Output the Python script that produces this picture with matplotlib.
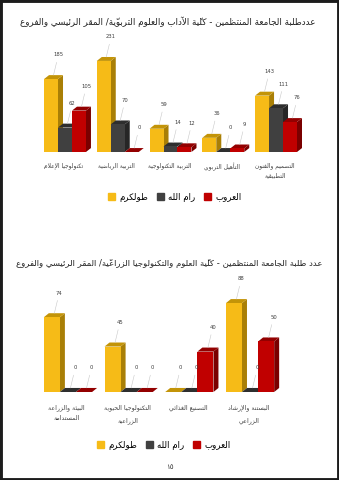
import numpy as np
import matplotlib.pyplot as plt
from matplotlib.patches import Polygon, Rectangle, Patch

# ---------------------------------------------------------------
# data
# ---------------------------------------------------------------
series = ['طولكرم', 'رام الله', 'العروب']

title1 = 'عددطلبة الجامعة المنتظمين - كليّة الآداب والعلوم التربويّة/ المقر الرئيسي والفروع'
cats1 = ['تكنولوجيا الإعلام', 'التربية الرياضية', 'التربية التكنولوجية',
         'التأهيل التربوي', 'التصميم والفنون\nالتطبيقية']
tulkarm1 = [185, 231, 59, 36, 143]
ramallah1 = [62, 70, 14, 0, 111]
arroub1 = [105, 0, 12, 9, 76]

title2 = 'عدد طلبة الجامعة المنتظمين - كليّة العلوم والتكنولوجيا الزراعيّة/ المقر الرئيسي والفروع'
cats2 = ['البيئة والزراعة\nالمستدامة', 'التكنولوجيا الحيوية\nالزراعية',
         'التصنيع الغذائي', 'البستنة والإرشاد\nالزراعي']
tulkarm2 = [74, 45, 0, 88]
ramallah2 = [0, 0, 0, 0]
arroub2 = [0, 0, 40, 50]

page_no = '١٥'

front = ['#F6BB17', '#404040', '#C00000']
side = ['#A97F06', '#262626', '#7A0000']
top = ['#C39408', '#2E2E2E', '#930000']

# ---------------------------------------------------------------
# minimal arabic shaping (matplotlib has no bidi / joining)
# ---------------------------------------------------------------
DUAL = {'ئ': 0xFE89, 'ب': 0xFE8F, 'ت': 0xFE95, 'ث': 0xFE99, 'ج': 0xFE9D,
        'ح': 0xFEA1, 'خ': 0xFEA5, 'س': 0xFEB1, 'ش': 0xFEB5, 'ص': 0xFEB9,
        'ض': 0xFEBD, 'ط': 0xFEC1, 'ظ': 0xFEC5, 'ع': 0xFEC9, 'غ': 0xFECD,
        'ف': 0xFED1, 'ق': 0xFED5, 'ك': 0xFED9, 'ل': 0xFEDD, 'م': 0xFEE1,
        'ن': 0xFEE5, 'ه': 0xFEE9, 'ي': 0xFEF1}
RIGHT = {'آ': 0xFE81, 'أ': 0xFE83, 'ؤ': 0xFE85, 'إ': 0xFE87, 'ا': 0xFE8D,
         'ة': 0xFE93, 'د': 0xFEA9, 'ذ': 0xFEAB, 'ر': 0xFEAD, 'ز': 0xFEAF,
         'و': 0xFEED, 'ى': 0xFEEF}
LAM_ALEF = {'آ': 0xFEF5, 'أ': 0xFEF7, 'إ': 0xFEF9, 'ا': 0xFEFB}
MARKS = set(chr(c) for c in range(0x064B, 0x0653))


def shape_line(s):
    # tokens: [letter_key, marks]
    toks = []
    i = 0
    while i < len(s):
        ch = s[i]
        if ch in MARKS and toks:
            toks[-1][1] += ch
            i += 1
            continue
        if ch == 'ل' and i + 1 < len(s) and s[i + 1] in LAM_ALEF:
            toks.append([('LA', s[i + 1]), ''])
            i += 2
            continue
        toks.append([ch, ''])
        i += 1

    def kind(t):
        if isinstance(t, tuple):
            return 'R'
        if t in DUAL:
            return 'D'
        if t in RIGHT:
            return 'R'
        if t == 'ء':
            return 'U'
        return None

    out = []
    for j, (t, m) in enumerate(toks):
        k = kind(t)
        if k is None or k == 'U':
            out.append(t + m)
            continue
        prev = kind(toks[j - 1][0]) if j > 0 else None
        nxt = kind(toks[j + 1][0]) if j + 1 < len(toks) else None
        jp = prev == 'D'
        jn = k == 'D' and nxt in ('D', 'R')
        if isinstance(t, tuple):
            base = LAM_ALEF[t[1]]
            g = chr(base + (1 if jp else 0))
        elif k == 'R':
            g = chr(RIGHT[t] + (1 if jp else 0))
        else:
            off = 3 if (jp and jn) else 1 if jp else 2 if jn else 0
            g = chr(DUAL[t] + off)
        out.append(g + m)
    return ''.join(out[::-1])


def ar(s):
    return '\n'.join(shape_line(line) for line in s.split('\n'))


# ---------------------------------------------------------------
# figure
# ---------------------------------------------------------------
W, H = 339, 480
fig = plt.figure(figsize=(W / 100, H / 100), dpi=100)
fig.patch.set_facecolor('white')


def px_axes(x0, x1, y_top, y_base):
    return fig.add_axes([x0 / W, 1 - y_base / H, (x1 - x0) / W, (y_base - y_top) / H])


def draw_chart(ax, cats, vals, xlim, ylim, dx, dy, cat_fs, cat_off, cat_ls):
    w = 0.265
    ax.set_xlim(*xlim)
    ax.set_ylim(*ylim)
    ax.axis('off')
    n = len(cats)
    for k in range(3):
        for i in range(n):
            x = i + (k - 1) * w
            h = vals[k][i]
            z = 2 + 3 * k + 10 * i
            ax.add_patch(Polygon([(x + w / 2, 0), (x + w / 2 + dx, dy),
                                  (x + w / 2 + dx, h + dy), (x + w / 2, h)],
                                 closed=True, fc=side[k], ec='none', zorder=z))
            ax.add_patch(Polygon([(x - w / 2, h), (x + w / 2, h),
                                  (x + w / 2 + dx, h + dy), (x - w / 2 + dx, h + dy)],
                                 closed=True, fc=top[k], ec='none', zorder=z + 1))
            ax.bar(x, h, w, color=front[k], zorder=z + 2, clip_on=False)
            ax.annotate(str(h), xy=(x + dx * 0.5, h + dy), xytext=(3.5, 14.5),
                        textcoords='offset points', ha='center', va='center',
                        fontsize=3.8, color='#404040', zorder=60,
                        arrowprops=dict(arrowstyle='-', color='#c8c8c8', lw=0.4,
                                        shrinkA=1.5, shrinkB=0))
    for i, c in enumerate(cats):
        ax.annotate(ar(c), xy=(i - 0.02, 0), xytext=(0, -cat_off),
                    textcoords='offset points', ha='center', va='top',
                    fontsize=cat_fs, color='#404040', linespacing=cat_ls,
                    annotation_clip=False)


def legend_at(xc, yc):
    handles = [Patch(color=c) for c in front]
    fig.legend(handles, [ar(s) for s in series], loc='center',
               bbox_to_anchor=(xc / W, 1 - yc / H), ncol=3, frameon=False,
               fontsize=6.2, handlelength=0.8, handleheight=0.95,
               handletextpad=0.5, columnspacing=1.0, borderaxespad=0)


# chart 1
fig.text(168 / W, 1 - 22 / H, ar(title1), ha='center', va='center',
         fontsize=6.3, color='#222222')
ax1 = px_axes(17.5, 323.5, 49.5, 152)
vals1 = [tulkarm1, ramallah1, arroub1]
draw_chart(ax1, cats1, vals1, (-0.9, 4.9), (0, 260), 0.095, 10, 4.2, 7.5, 1.8)
legend_at(175, 197)

# chart 2
fig.text(169 / W, 1 - 264 / H, ar(title2), ha='center', va='center',
         fontsize=6.1, color='#222222')
ax2 = px_axes(19.4, 298.6, 292, 392)
vals2 = [tulkarm2, ramallah2, arroub2]
draw_chart(ax2, cats2, vals2, (-0.8, 3.8), (0, 99), 0.082, 4, 4.5, 8.5, 2.3)
legend_at(164, 445)

fig.text(170 / W, 1 - 467 / H, page_no, ha='center', va='center',
         fontsize=5, color='#333333')

fig.add_artist(Rectangle((0, 0), 1, 1, transform=fig.transFigure, fill=False,
                         ec='#1c1c1c', lw=3.5))

fig.savefig('out.png', dpi=100)
